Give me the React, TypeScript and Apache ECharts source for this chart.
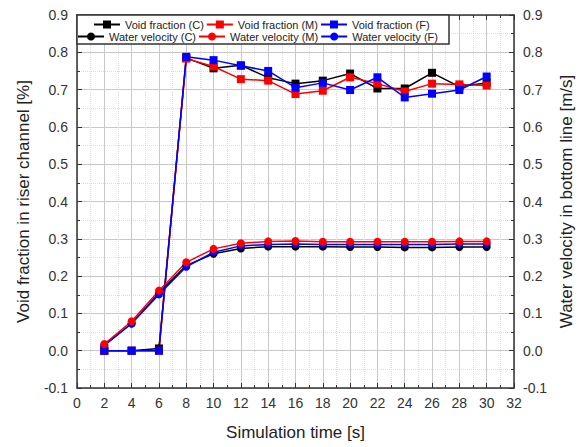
import React, { useEffect, useRef } from "react";
import * as echarts from "echarts";

const times = [2, 4, 6, 8, 10, 12, 14, 16, 18, 20, 22, 24, 26, 28, 30];
const voidC = [0.0, 0.0, 0.006, 0.785, 0.757, 0.765, 0.732, 0.716, 0.724, 0.743, 0.703, 0.703, 0.745, 0.708, 0.718];
const voidM = [0.0, 0.0, 0.0, 0.783, 0.762, 0.728, 0.724, 0.688, 0.697, 0.733, 0.716, 0.695, 0.716, 0.714, 0.711];
const voidF = [0.0, 0.0, 0.0, 0.788, 0.779, 0.764, 0.75, 0.705, 0.718, 0.699, 0.733, 0.679, 0.689, 0.699, 0.735];
const waterC = [0.015, 0.073, 0.155, 0.228, 0.26, 0.274, 0.279, 0.279, 0.279, 0.278, 0.278, 0.277, 0.277, 0.278, 0.278];
const waterM = [0.018, 0.079, 0.161, 0.237, 0.273, 0.288, 0.293, 0.294, 0.292, 0.292, 0.292, 0.292, 0.292, 0.293, 0.293];
const waterF = [0.014, 0.073, 0.151, 0.225, 0.264, 0.281, 0.285, 0.286, 0.285, 0.285, 0.285, 0.285, 0.285, 0.286, 0.286];

const seriesNamesVoid = ["Void fraction (C)", "Void fraction (M)", "Void fraction (F)"];
const seriesNamesWater = ["Water velocity (C)", "Water velocity (M)", "Water velocity (F)"];

const FONT = "Liberation Sans, Arial, sans-serif";

export default function App() {
  const ref = useRef<HTMLDivElement>(null);
  useEffect(() => {
    if (!ref.current) return;
    const chart = echarts.init(ref.current, null, { renderer: "svg" });
    const pair = (ys: number[]) => times.map((t, i) => [t, ys[i]]);
    const mk = (name: string, ys: number[], color: string, symbol: string, yAxisIndex: number, z: number) => ({
      name,
      type: "line",
      data: pair(ys),
      xAxisIndex: 0,
      yAxisIndex,
      symbol,
      symbolSize: 8,
      showAllSymbol: true,
      z,
      lineStyle: { color, width: 1.5 },
      itemStyle: { color },
      emphasis: { disabled: true },
    });
    const yAxisCommon = (pos: "left" | "right", name: string, nameGap: number) => ({
      type: "value",
      position: pos,
      min: -0.1,
      max: 0.9,
      interval: 0.1,
      name,
      nameLocation: "middle",
      nameGap,
      nameTextStyle: { fontFamily: FONT, fontSize: 17, color: "#222" },
      axisLine: { show: true, onZero: false, lineStyle: { color: "#333", width: 1.5 } },
      axisTick: { show: true, inside: true, length: 5, lineStyle: { color: "#333" } },
      minorTick: { show: true, splitNumber: 2, length: 3, lineStyle: { color: "#333" } },
      axisLabel: {
        fontFamily: FONT,
        fontSize: 14,
        color: "#333",
        margin: 9,
        formatter: (v: number) => v.toFixed(1),
      },
      splitLine: { show: pos === "left", lineStyle: { color: "#c8c8c8", width: 1 } },
      minorSplitLine: { show: pos === "left", lineStyle: { color: "#dcdcdc", type: "dotted", width: 1 } },
    });
    const legendCommon = {
      itemWidth: 26,
      itemHeight: 10,
      itemGap: 2,
      padding: 0,
      z: 5,
      textStyle: { fontFamily: FONT, fontSize: 11, color: "#222" },
    };
    chart.setOption({
      animation: false,
      backgroundColor: "#fff",
      grid: { left: 77, right: 68, top: 15, bottom: 59, containLabel: false },
      xAxis: [
        {
          type: "value",
          position: "bottom",
          min: 0,
          max: 32,
          interval: 2,
          name: "Simulation time [s]",
          nameLocation: "middle",
          nameGap: 36,
          nameTextStyle: { fontFamily: FONT, fontSize: 17, color: "#222" },
          axisLine: { show: true, onZero: false, lineStyle: { color: "#333", width: 1.5 } },
          axisTick: { show: true, inside: true, length: 5, lineStyle: { color: "#333" } },
          minorTick: { show: true, splitNumber: 2, length: 3, lineStyle: { color: "#333" } },
          axisLabel: { fontFamily: FONT, fontSize: 14, color: "#333", margin: 8 },
          splitLine: { show: true, lineStyle: { color: "#c8c8c8", width: 1 } },
          minorSplitLine: { show: true, lineStyle: { color: "#dcdcdc", type: "dotted", width: 1 } },
        },
        {
          type: "value",
          position: "top",
          min: 0,
          max: 32,
          interval: 2,
          axisLine: { show: true, onZero: false, lineStyle: { color: "#333", width: 1.5 } },
          axisTick: { show: true, inside: true, length: 5, lineStyle: { color: "#333" } },
          minorTick: { show: true, splitNumber: 2, length: 3, lineStyle: { color: "#333" } },
          axisLabel: { show: false },
          splitLine: { show: false },
        },
      ],
      yAxis: [
        yAxisCommon("left", "Void fraction in riser channel [%]", 45),
        yAxisCommon("right", "Water velocity in bottom line [m/s]", 44),
      ],
      graphic: [
        {
          type: "rect",
          z: 3,
          shape: { x: 77, y: 15, width: 372, height: 29 },
          style: { fill: "#fff", stroke: "#333", lineWidth: 1.5 },
        },
      ],
      legend: [
        { ...legendCommon, data: seriesNamesVoid, left: 93, top: 19 },
        { ...legendCommon, data: seriesNamesWater, left: 77, top: 31 },
      ],
      series: [
        mk(seriesNamesVoid[0], voidC, "#000000", "rect", 0, 2),
        mk(seriesNamesVoid[1], voidM, "#ff0000", "rect", 0, 2),
        mk(seriesNamesVoid[2], voidF, "#0000ff", "rect", 0, 2),
        mk(seriesNamesWater[0], waterC, "#000000", "circle", 1, 2),
        mk(seriesNamesWater[2], waterF, "#0000ff", "circle", 1, 2),
        mk(seriesNamesWater[1], waterM, "#ff0000", "circle", 1, 2),
      ],
    });
    return () => chart.dispose();
  }, []);
  return <div ref={ref} style={{ width: 583, height: 447, position: "absolute", left: 0, top: 0 }} />;
}
